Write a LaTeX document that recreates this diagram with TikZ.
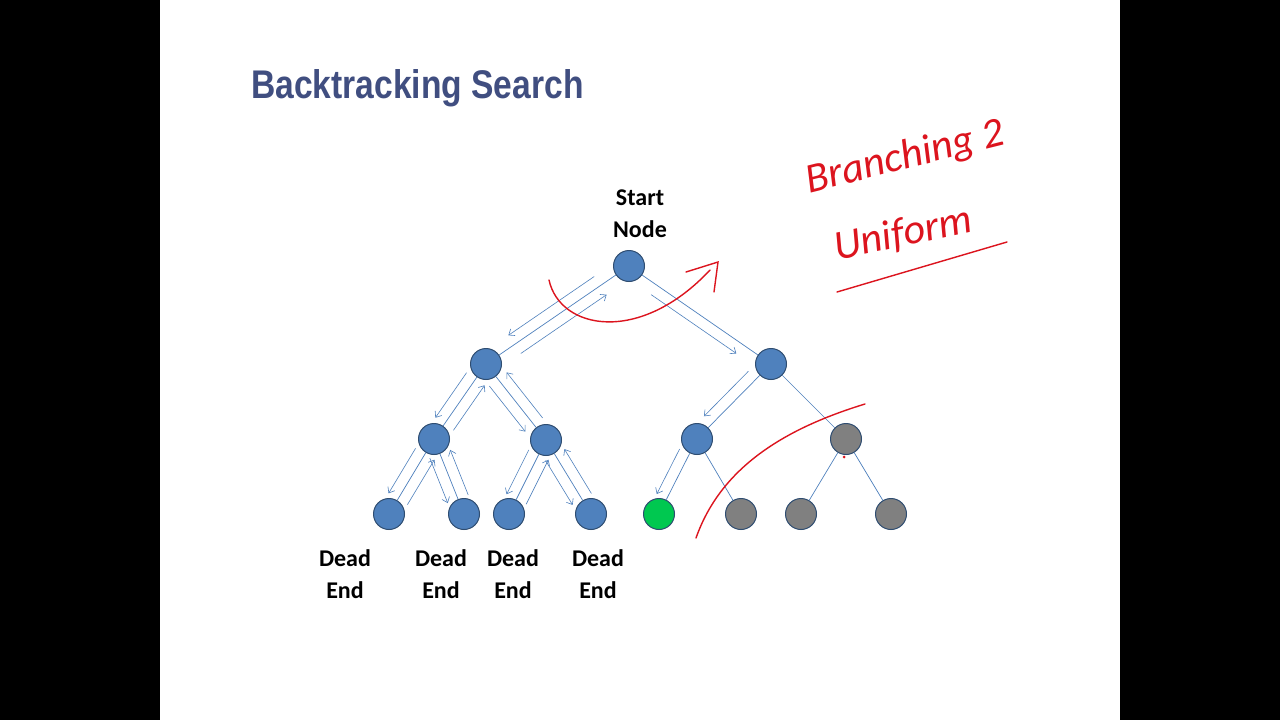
\documentclass[tikz,border=0pt]{standalone}
\usepackage{fontspec}
\setmainfont{Carlito}
\newfontfamily\titlefont{Liberation Sans}
\usetikzlibrary{calc,arrows.meta}
\definecolor{nblue}{RGB}{79,129,189}
\definecolor{tblue}{RGB}{64,78,128}
\definecolor{ngreen}{RGB}{0,200,80}
\definecolor{inkred}{RGB}{220,20,30}
\begin{document}
\begin{tikzpicture}[x=1pt,y=-1pt,
  tn/.style={circle,draw=nblue!60!black,line width=1pt,fill=#1,minimum size=31pt,inner sep=0pt},
  tn/.default=nblue,
  edge/.style={draw=nblue,line width=0.7pt},
  trav/.style={draw=nblue,line width=0.6pt,-{Straight Barb[length=5pt,width=8pt]}},
  lab/.style={font=\bfseries\fontsize{24}{32}\selectfont,align=center},
  ink/.style={inkred,line width=1.4pt,line cap=round}]
\fill[black] (0,0) rectangle (1280,720);
\fill[white] (160,0) rectangle (1120,720);
\useasboundingbox (0,0) rectangle (1280,720);
\node[anchor=west,font=\titlefont\bfseries\fontsize{40}{44}\selectfont,text=tblue,xscale=0.84,inner sep=0pt] (title) at (251,88) {Backtracking Search};
\node[tn] (R) at (629,266) {};
\node[tn] (A) at (486,364) {};
\node[tn] (B) at (771,364) {};
\node[tn] (C) at (434,439) {};
\node[tn] (D) at (546,440) {};
\node[tn] (E) at (697,439) {};
\node[tn=gray] (F) at (846,439) {};
\node[tn] (l1) at (389,514) {};
\node[tn] (l2) at (464,514) {};
\node[tn] (l3) at (509,514) {};
\node[tn] (l4) at (591,514) {};
\node[tn=ngreen] (l5) at (659,514) {};
\node[tn=gray] (l6) at (741,514) {};
\node[tn=gray] (l7) at (801,514) {};
\node[tn=gray] (l8) at (891,514) {};
\foreach \a/\b in {R/A,R/B,A/C,A/D,B/E,B/F,C/l1,C/l2,D/l3,D/l4,E/l5,E/l6,F/l7,F/l8}
  \draw[edge] (\a) -- (\b);
% descending arrows
\foreach \a/\b in {R/A,R/B,A/C,A/D,B/E,C/l1,C/l2,D/l3,D/l4,E/l5}
  \draw[trav] ($(\a)!0.2!(\b)!11pt!-90:(\b)$) -- ($(\a)!0.8!(\b)!11pt!90:(\a)$);
% ascending arrows
\foreach \a/\b in {R/A,A/C,A/D,C/l1,C/l2,D/l3,D/l4}
  \draw[trav] ($(\b)!0.2!(\a)!11pt!-90:(\a)$) -- ($(\b)!0.8!(\a)!11pt!90:(\b)$);
\node[lab] (sn) at (640,214) {Start\\Node};
\node[lab] (d1) at (345,574) {Dead\\End};
\node[lab] (d2) at (441,574) {Dead\\End};
\node[lab] (d3) at (513,574) {Dead\\End};
\node[lab] (d4) at (598,574) {Dead\\End};
% red annotations
\draw[ink] (549,280) .. controls (560,330) and (640,345) .. (710,270);
\draw[ink] (686,272) -- (718,262) -- (714,292);
\draw[ink] (696,538) .. controls (720,470) and (780,430) .. (865,404);
\fill[inkred] (844,457) circle (1.5pt);
\node[inkred,font=\itshape\fontsize{42}{42}\selectfont,rotate=14] (br) at (905,158) {Branching 2};
\node[inkred,font=\itshape\fontsize{42}{42}\selectfont,rotate=12] (un) at (903,234) {Uniform};
\draw[ink] (837,292) -- (1007,242);
\end{tikzpicture}
\end{document}
